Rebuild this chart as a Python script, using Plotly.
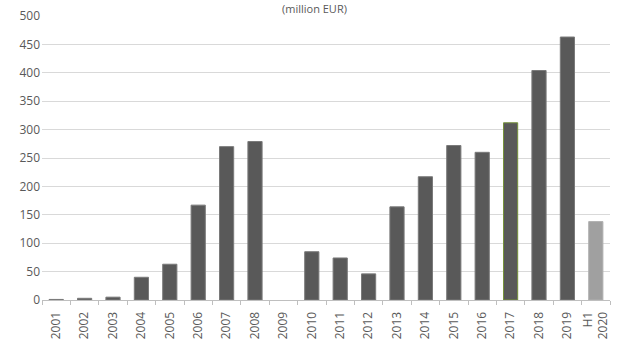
import plotly.graph_objects as go

categories = ["2001", "2002", "2003", "2004", "2005", "2006", "2007", "2008", "2009", "2010",
              "2011", "2012", "2013", "2014", "2015", "2016", "2017", "2018", "2019", "H1 2020"]
tick_labels = ["2001", "2002", "2003", "2004", "2005", "2006", "2007", "2008", "2009", "2010",
               "2011", "2012", "2013", "2014", "2015", "2016", "2017", "2018", "2019", "H1<br>2020"]
values = [1, 3, 5, 40, 63, 167, 270, 279, 0, 85, 74, 46, 164, 217, 272, 260, 312, 404, 463, 138]

fill_colors = ["#a0a0a0" if c == "H1 2020" else "#595959" for c in categories]
line_colors = ["#77933c" if c == "2017" else ("#b0b0b0" if c == "H1 2020" else "#7a7a7a") for c in categories]
line_widths = [0 if v == 0 else 1 for v in values]

fig = go.Figure(go.Bar(
    x=categories, y=values,
    marker=dict(color=fill_colors, line=dict(color=line_colors, width=line_widths)),
))

fig.update_layout(
    width=620, height=347,
    margin=dict(l=42, r=10, t=15.5, b=46.5),
    paper_bgcolor="white", plot_bgcolor="white",
    bargap=0.5, showlegend=False,
    font=dict(family="Open Sans", size=12, color="#595959"),
    annotations=[dict(text="(million EUR)", xref="paper", yref="paper", x=0.48, y=1,
                      xanchor="center", yanchor="bottom", yshift=-2, showarrow=False,
                      font=dict(size=11, color="#595959"))],
)
fig.update_xaxes(
    type="category", tickmode="array", tickvals=categories, ticktext=tick_labels,
    tickangle=-90, showline=True, linecolor="#bfbfbf", linewidth=1,
    ticks="outside", tickson="boundaries", ticklen=4, tickcolor="#bfbfbf",
    ticklabelstandoff=6, automargin=False,
    showgrid=False, tickfont=dict(size=12, color="#595959"),
)
fig.update_yaxes(
    range=[0, 500], dtick=50, showgrid=True, gridcolor="#d9d9d9", gridwidth=1,
    zeroline=False, ticks="", ticklabelstandoff=1, automargin=False,
    tickfont=dict(size=12, color="#595959"),
)

fig.write_html("out.html")
